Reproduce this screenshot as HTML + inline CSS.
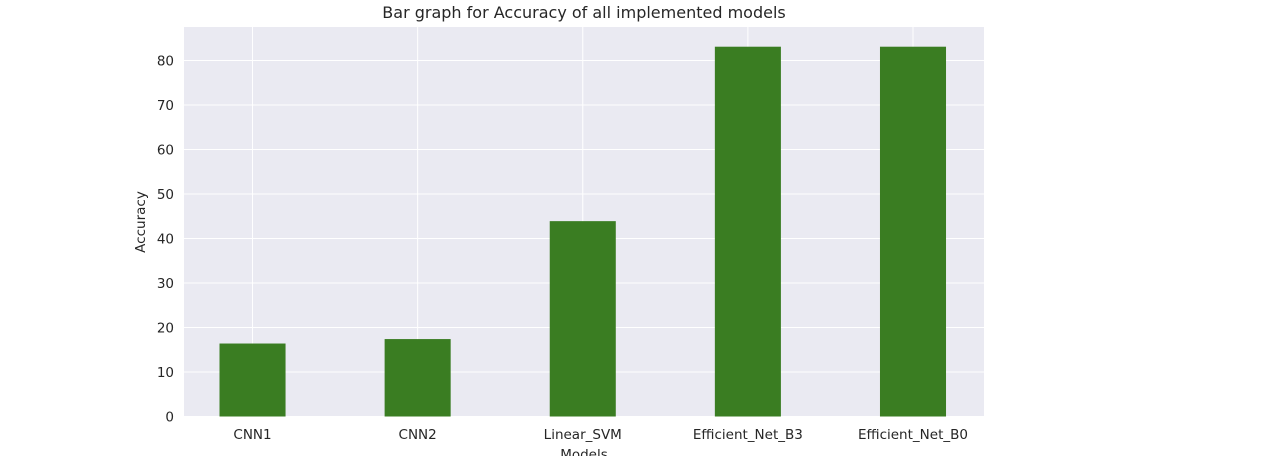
<!DOCTYPE html>
<html><head><meta charset="utf-8"><style>
html,body{margin:0;padding:0;background:#fff;width:1280px;height:456px;overflow:hidden}
svg text{font-family:"DejaVu Sans","Liberation Sans",sans-serif;fill:#262626}
</style></head><body>
<svg id="chart" width="1280" height="456" xmlns="http://www.w3.org/2000/svg">
<text x="584" y="18" font-size="16" text-anchor="middle">Bar graph for Accuracy of all implemented models</text>
<rect x="184" y="27" width="800" height="389.5" fill="#eaeaf2"/>
<g id="grid"></g><g id="bars"></g><g id="ticks"></g>
<text transform="translate(145,222) rotate(-90)" font-size="13.5" text-anchor="middle">Accuracy</text>
<text x="584" y="459" font-size="13.5" text-anchor="middle">Models</text>
</svg>
<script>
const categories=["CNN1","CNN2","Linear_SVM","Efficient_Net_B3","Efficient_Net_B0"];
const values=[16.4,17.4,43.9,83.1,83.1];
const yTicks=[0,10,20,30,40,50,60,70,80];
const NS="http://www.w3.org/2000/svg";
const X0=184,X1=984,Y0=416.5,PPU=4.45;
const xmin=-0.415,xmax=4.43;
function xs(i){return X0+(i-xmin)/(xmax-xmin)*(X1-X0);}
function ys(v){return Y0-v*PPU;}
function mk(t,a,p){const e=document.createElementNS(NS,t);for(const k in a)e.setAttribute(k,a[k]);p.appendChild(e);return e;}
const grid=document.getElementById('grid'),bars=document.getElementById('bars'),ticks=document.getElementById('ticks');
yTicks.forEach(v=>{
 const l=mk('line',{x1:X0,x2:X1,y1:ys(v),y2:ys(v),stroke:'#fff','stroke-width':1},grid);
 
 
 const t=mk('text',{x:X0-10,y:ys(v)+5,'font-size':13.5,'text-anchor':'end'},ticks);
 t.textContent=v;
 
 
});
categories.forEach((c,i)=>{
 const l=mk('line',{x1:xs(i),x2:xs(i),y1:27,y2:Y0,stroke:'#fff','stroke-width':1},grid);
 
 
 const w=0.4*(X1-X0)/(xmax-xmin);
 const b=mk('rect',{x:xs(i)-w/2,y:ys(values[i]),width:w,height:values[i]*PPU,fill:'#3a7d22'},bars);
 
 
 const t=mk('text',{x:xs(i),y:439,'font-size':13.5,'text-anchor':'middle'},ticks);
 t.textContent=c;
 
 
});
</script>
</body></html>
